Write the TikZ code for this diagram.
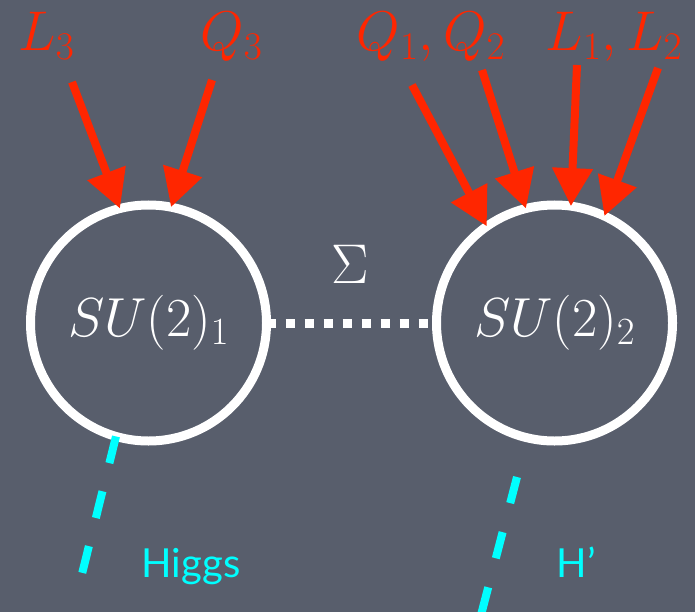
\documentclass[tikz,border=0pt]{standalone}
\usepackage{fix-cm}
\usepackage{fontspec}
\newfontfamily\labelfont{Lato}
\usetikzlibrary{arrows.meta}
\definecolor{bg}{RGB}{88,94,108}
\definecolor{quarkred}{RGB}{255,38,0}
\definecolor{higgscyan}{RGB}{0,255,255}
\begin{document}
\begin{tikzpicture}[x=1pt,y=-1pt,
  gaugegroup/.style={circle,draw=white,line width=9pt,minimum size=236pt,inner sep=0pt,outer sep=0pt,text=white,font=\fontsize{55}{60}\selectfont},
  mathlabel/.style={anchor=base,inner sep=0pt,font=\fontsize{56}{60}\selectfont},
  fieldlabel/.style={mathlabel,text=quarkred},
  feed/.style={draw=quarkred,line width=8pt,-{Triangle[length=38pt,width=39pt]}},
  linkline/.style={draw=white,line width=9pt,dash pattern=on 9pt off 10pt},
  scalar/.style={draw=higgscyan,line width=8pt},
  scalarlabel/.style={anchor=base,inner sep=0pt,text=higgscyan,font=\labelfont\fontsize{40}{44}\selectfont}]
\useasboundingbox (0,0) rectangle (695,612);
\fill[bg] (0,0) rectangle (695,612);

% gauge groups
\node[gaugegroup] (su1) at (148.5,323) {$SU(2)_1$};
\node[gaugegroup] (su2) at (554.5,323) {$SU(2)_2$};

% link field
\draw[linkline] (su1.east) -- (su2.west);
\node[mathlabel,text=white] (sigma) at (350,283) {$\Sigma$};

% fermion labels
\node[fieldlabel] (l3) at (46.5,51) {$L_3$};
\node[fieldlabel] (q3) at (231.5,51) {$Q_3$};
\node[fieldlabel] (q12) at (431,51) {$Q_1,Q_2$};
\node[fieldlabel] (l12) at (614,51) {$L_1,L_2$};

% arrow start points
\coordinate (l3s) at (72,82);
\coordinate (q3s) at (212,80);
\coordinate (q1s) at (412,85);
\coordinate (q2s) at (482,70);
\coordinate (l1s) at (577,65);
\coordinate (l2s) at (658,68);

\draw[feed] (l3s) -- (su1.104);
\draw[feed] (q3s) -- (su1.79);
\draw[feed] (q1s) -- (su2.125);
\draw[feed] (q2s) -- (su2.104);
\draw[feed] (l1s) -- (su2.82);
\draw[feed] (l2s) -- (su2.65);

% scalars
\coordinate (higgsend) at (82,574);
\draw[scalar,dash pattern=on 27.5pt off 29pt] (su1.-106) -- (higgsend);
\coordinate (hps) at (517,477);
\coordinate (hpe) at (481,615);
\draw[scalar,dash pattern=on 27pt off 30pt] (hps) -- (hpe);

\node[scalarlabel] (higgs) at (191,577) {Higgs};
\node[scalarlabel] (hprime) at (576.5,577) {H’};
\end{tikzpicture}
\end{document}
